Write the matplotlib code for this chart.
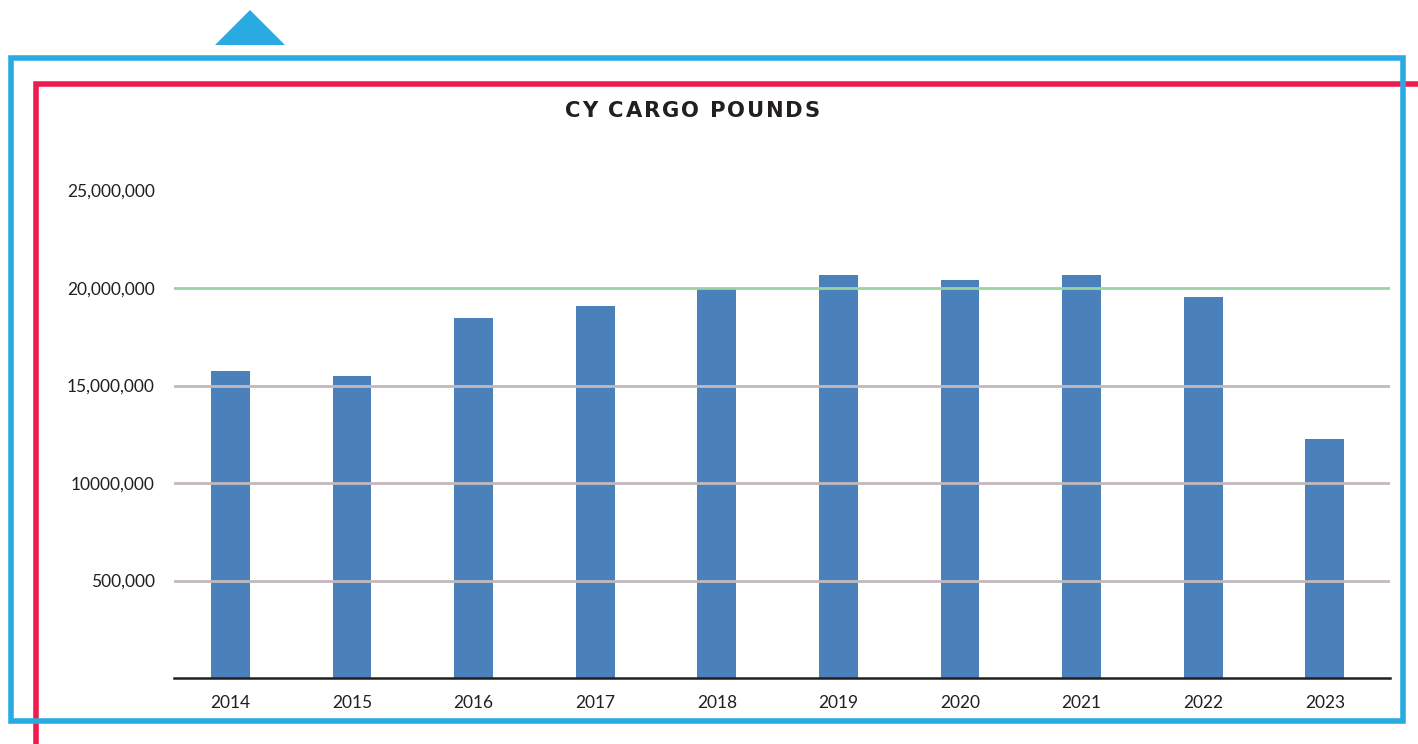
import matplotlib
matplotlib.use("Agg")
import matplotlib.pyplot as plt
from matplotlib.patches import Rectangle, Polygon
from matplotlib.lines import Line2D

years = ["2014", "2015", "2016", "2017", "2018", "2019", "2020", "2021", "2022", "2023"]
cargo_pounds = [15740000, 15490000, 18460000, 19080000, 19950000,
                20670000, 20410000, 20670000, 19540000, 12260000]
ytick_values = [5000000, 10000000, 15000000, 20000000, 25000000]
ytick_labels = ["500,000", "10000,000", "15,000,000", "20,000,000", "25,000,000"]
grid_values = [5000000, 10000000, 15000000, 20000000]
grid_colors = ["#c2b9bd", "#c2b9bd", "#c2b9bd", "#9ad3a3"]
title = "CY CARGO POUNDS"

W, H = 1418, 744
fig = plt.figure(figsize=(W / 100, H / 100), dpi=100)
fig.patch.set_facecolor("white")

def fx(px):
    return px / W

def fy(py):
    return 1 - py / H

# decorative frames
fig.patches.append(Rectangle((fx(10.5), fy(720.5)), fx(1392), fy(57.5) - fy(720.5),
                             transform=fig.transFigure, fill=False,
                             edgecolor="#29abe2", linewidth=4.0, zorder=0))
fig.lines.append(Line2D([fx(35.5), fx(35.5), fx(1420)], [fy(750), fy(84), fy(84)],
                        transform=fig.transFigure, color="#ee1c4f", linewidth=4.0,
                        solid_joinstyle="miter", zorder=0))
fig.patches.append(Polygon([(fx(215), fy(45)), (fx(250), fy(10)), (fx(285), fy(45))],
                           closed=True, transform=fig.transFigure,
                           facecolor="#29abe2", edgecolor="none"))

ax = fig.add_axes([fx(174), fy(678), fx(1390) - fx(174), fy(190.5) - fy(678)])
ax.set_facecolor("none")
x = list(range(len(years)))
ax.bar(x, cargo_pounds, width=0.32, color="#4b81bb", zorder=2)
for v, c in zip(grid_values, grid_colors):
    ax.axhline(v, color=c, linewidth=2.0, zorder=3)

ax.set_xlim(-0.464, len(years) - 0.464)
ax.set_ylim(0, 25000000)
ax.set_xticks(x)
ax.set_xticklabels(years)
ax.set_yticks(ytick_values)
ax.set_yticklabels(ytick_labels)
for s in ["top", "right", "left"]:
    ax.spines[s].set_visible(False)
ax.spines["bottom"].set_color("#231f20")
ax.spines["bottom"].set_linewidth(1.8)
ax.spines["bottom"].set_zorder(4)
ax.tick_params(axis="both", length=0, labelsize=12.5, colors="#231f20")
ax.tick_params(axis="y", pad=13.7)
ax.tick_params(axis="x", pad=12)
for lab in ax.get_xticklabels() + ax.get_yticklabels():
    lab.set_fontfamily("Lato")

# letter-spaced title
renderer = fig.canvas.get_renderer()
tprops = dict(fontsize=15.2, fontweight="bold", fontfamily="DejaVu Sans", color="#231f20")

def text_w(s):
    t = fig.text(0, 0, s, **tprops)
    w = t.get_window_extent(renderer).width
    t.remove()
    return w

base = text_w("II")
adv = [text_w("I" + ch + "I") - base for ch in title]
target_w = 255.0
track = max(0.0, (target_w - sum(adv)) / (len(title) - 1))
total = sum(adv) + track * (len(title) - 1)
x0 = 692.5 - total / 2
cx = x0
for ch, a in zip(title, adv):
    if ch != " ":
        fig.text(fx(cx), fy(117.3), ch, ha="left", va="baseline", **tprops)
    cx += a + track

fig.savefig("out.png", dpi=100)
